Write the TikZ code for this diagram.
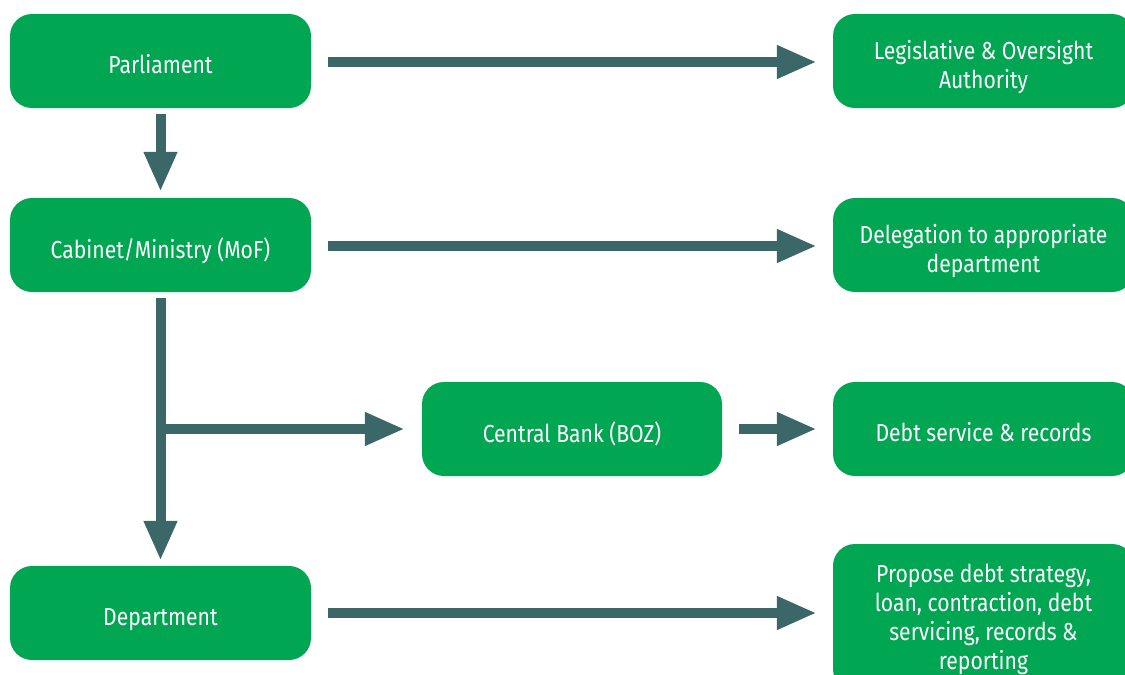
\documentclass[tikz,border=0pt]{standalone}
\usepackage{fontspec}
\setmainfont{Fira Sans}[FakeStretch=0.86]
\usetikzlibrary{arrows.meta}
\definecolor{boxgreen}{HTML}{00A651}
\definecolor{flowslate}{HTML}{3C6769}
% centred lines, set a little below the box middle
\newcommand{\boxtext}[2][7pt]{\raisebox{-#1}[\height][\depth]{\begin{tabular}{@{}c@{}}#2\end{tabular}}}
\tikzset{
  stagebox/.style={draw=none, fill=boxgreen, text=white, rounded corners=22pt,
    minimum width=301pt, minimum height=94pt,
    font=\fontsize{24.6}{29}\selectfont, inner sep=0pt},
  flow/.style={draw=flowslate, line width=10pt,
    -{Triangle[length=40pt,width=31pt]}, fill=flowslate}
}
\begin{document}
\begin{tikzpicture}[x=1pt,y=-1pt]
\clip (0,0) rectangle (1125,675);
\fill[white] (0,0) rectangle (1125,675);
% left column
\node[stagebox] (parl) at (160.5,61) {\boxtext{Parliament}};
\node[stagebox] (cab) at (160.5,245) {\boxtext{Cabinet/Ministry (MoF)}};
\node[stagebox] (dept) at (160.5,613) {\boxtext{Department}};
\node[stagebox, minimum width=300pt] (boz) at (572,429) {\boxtext{Central Bank (BOZ)}};
% right column
\node[stagebox] (legis) at (983.5,61) {\boxtext{Legislative \& Oversight\\Authority}};
\node[stagebox] (deleg) at (983.5,245) {\boxtext{Delegation to appropriate\\department}};
\node[stagebox] (debt) at (983.5,429) {\boxtext{Debt service \& records}};
\node[stagebox, minimum height=147pt] (prop) at (983.5,617.5) {\boxtext[3pt]{Propose debt strategy,\\loan, contraction, debt\\servicing, records \&\\reporting}};
% connectors
\draw[flow, shorten <=17pt, shorten >=16pt] (parl.east |- 0,62) -- (legis.west |- 0,62);
\draw[flow, shorten <=17pt, shorten >=16pt] (cab.east |- 0,246) -- (deleg.west |- 0,246);
\draw[flow, shorten <=17pt, shorten >=16pt] (dept.east |- 0,613) -- (prop.west |- 0,613);
\draw[flow, shorten <=17pt, shorten >=16pt] (boz.east) -- (debt.west);
\draw[flow, shorten <=6pt, shorten >=6pt] (parl.south) -- (cab.north);
\draw[flow, shorten <=6pt, shorten >=5pt] (cab.south) -- (dept.north);
\coordinate (branch) at (cab.south |- boz.west);
\draw[flow, shorten >=17pt] (branch) -- (boz.west);
\end{tikzpicture}
\end{document}
